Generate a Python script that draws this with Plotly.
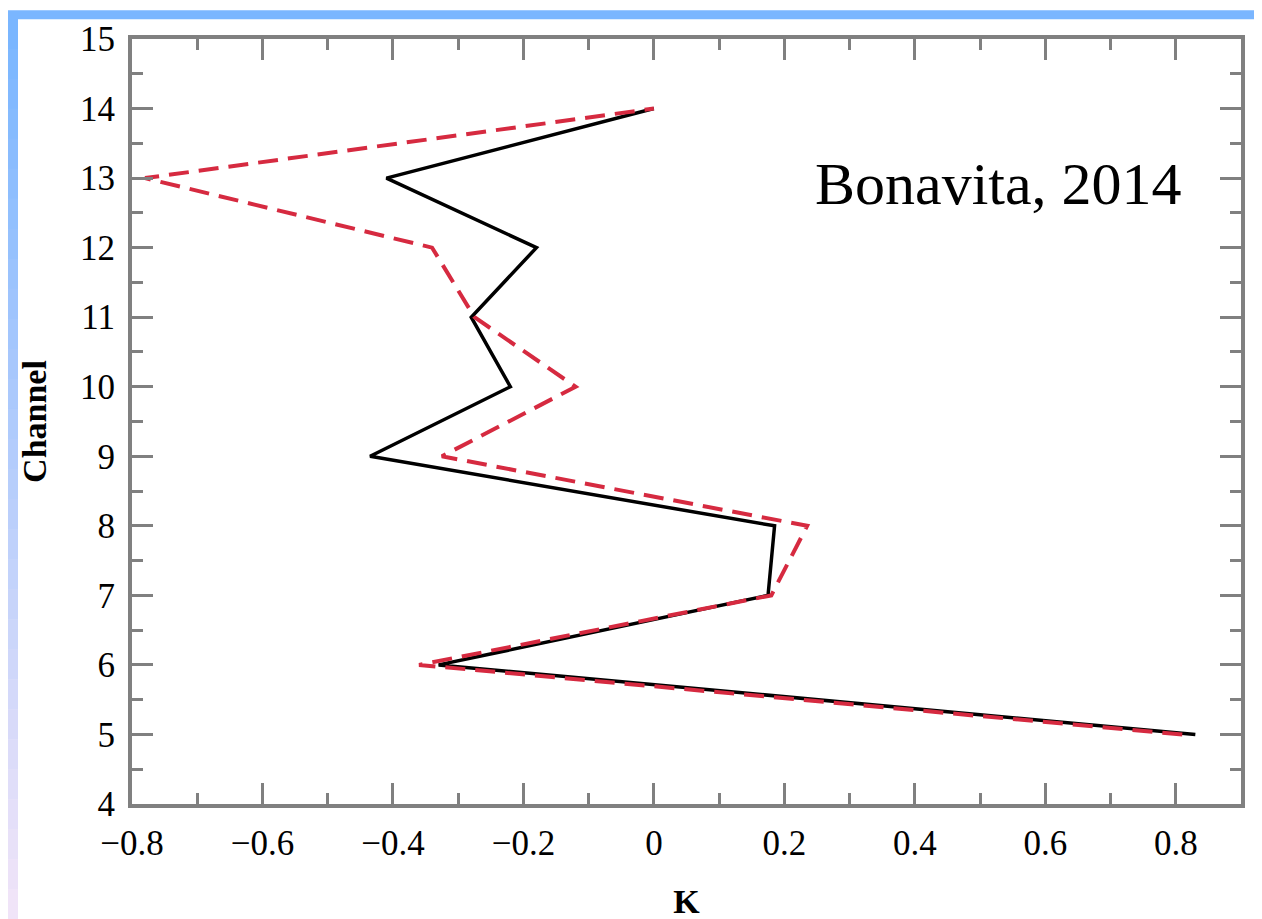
import plotly.graph_objects as go

# ---- data ----
channels = [5, 6, 7, 8, 9, 10, 11, 12, 13, 14]
k_black = [0.83, -0.33, 0.175, 0.185, -0.435, -0.22, -0.28, -0.18, -0.41, 0.0]
k_red = [0.81, -0.36, 0.18, 0.235, -0.325, -0.12, -0.275, -0.34, -0.78, 0.0]
annotation_text = "Bonavita, 2014"
x_title = "K"
y_title = "Channel"

W, H = 1262, 919
L, R, T, B = 124, 1233, 29, 802  # plot frame in pixels

def px_x(p):
    return (p - L) / (R - L)

def px_y(p):
    return (B - p) / (B - T)

fig = go.Figure()
fig.add_trace(go.Scatter(x=k_black, y=channels, mode="lines",
                         line=dict(color="black", width=3.5), showlegend=False))
fig.add_trace(go.Scatter(x=k_red, y=channels, mode="lines",
                         line=dict(color="#d62a40", width=4, dash="20px,10px"),
                         showlegend=False))

# decorative slide border (top band + left gradient band)
shapes = []
shapes.append(dict(type="rect", xref="paper", yref="paper",
                   x0=px_x(0), x1=px_x(W), y0=px_y(0), y1=px_y(9),
                   fillcolor="rgb(122,182,255)", line=dict(width=0), layer="above"))
n = 30
c0 = (122, 182, 255)
c1 = (240, 228, 248)
for i in range(n):
    t = i / (n - 1)
    c = tuple(int(round(c0[j] + (c1[j] - c0[j]) * t)) for j in range(3))
    y0p = 9 + (H - 9) * i / n
    y1p = 9 + (H - 9) * (i + 1) / n
    shapes.append(dict(type="rect", xref="paper", yref="paper",
                       x0=px_x(0), x1=px_x(10), y0=px_y(y1p), y1=px_y(y0p - 0.5),
                       fillcolor="rgb(%d,%d,%d)" % c, line=dict(width=0), layer="above"))

axis_common = dict(
    showline=True, linecolor="#808080", linewidth=4, mirror="allticks",
    ticks="inside", ticklen=21, tickwidth=3, tickcolor="#808080",
    showgrid=False, zeroline=False,
    tickfont=dict(family="Liberation Serif", size=35, color="black"),
)

fig.update_layout(
    width=W, height=H,
    margin=dict(l=L, r=W - R, t=T, b=H - B),
    paper_bgcolor="white", plot_bgcolor="white",
    shapes=shapes,
    xaxis=dict(range=[-0.8, 0.9], dtick=0.2, tick0=-0.8,
               minor=dict(dtick=0.1, tick0=-0.8, ticks="inside", ticklen=11,
                          tickwidth=3, tickcolor="#808080"),
               title=dict(text="<b>" + x_title + "</b>", standoff=28,
                          font=dict(family="Liberation Serif", size=34, color="black")),
               ticklabelstandoff=5,
               **axis_common),
    yaxis=dict(range=[4, 15], dtick=1, tick0=4,
               minor=dict(dtick=0.5, tick0=4, ticks="inside", ticklen=11,
                          tickwidth=3, tickcolor="#808080"),
               title=dict(text="<b>" + y_title + "</b>", standoff=24,
                          font=dict(family="Liberation Serif", size=34, color="black")),
               ticklabelstandoff=6,
               **axis_common),
    annotations=[dict(text=annotation_text, xref="paper", yref="paper",
                      x=px_x(1176), y=px_y(176), xanchor="right", yanchor="middle",
                      showarrow=False,
                      font=dict(family="Liberation Serif", size=60, color="black"))],
)

fig.write_html("out.html")
